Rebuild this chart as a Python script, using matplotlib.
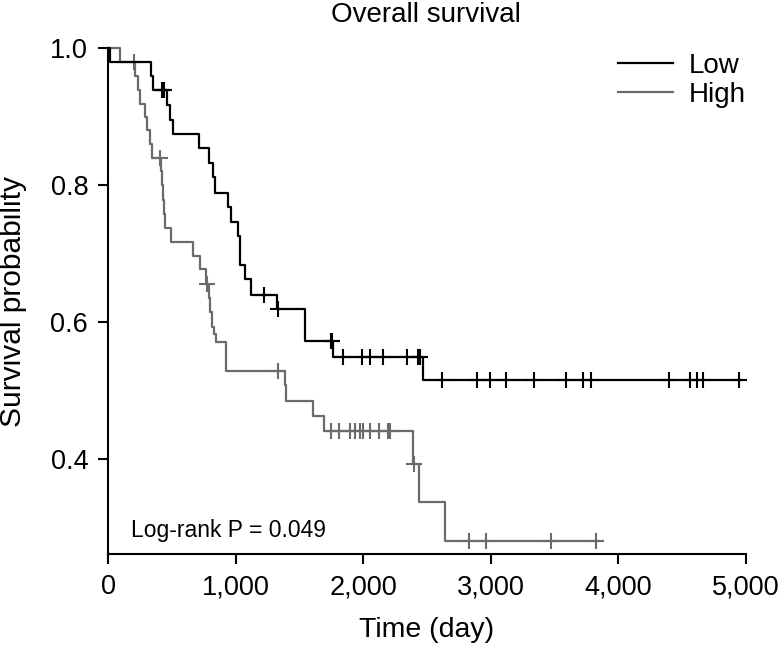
import numpy as np
import matplotlib
matplotlib.use("Agg")
import matplotlib.pyplot as plt

plt.rcParams['font.family'] = ['Liberation Sans', 'DejaVu Sans']

# ---- data ----
low_time = [0, 15, 335, 351, 461, 487, 505, 709, 788, 819, 840, 940, 965, 1018,
            1036, 1075, 1122, 1324, 1546, 1764, 2470]
low_surv = [1.0, 0.980, 0.960, 0.939, 0.917, 0.896, 0.875, 0.855, 0.833, 0.812,
            0.789, 0.768, 0.746, 0.725, 0.683, 0.662, 0.640, 0.619, 0.572, 0.549, 0.5145]
low_end = 4960
low_censor = [418, 428, 438, 1219, 1335, 1745, 1755, 1842, 1991, 2051, 2155, 2346,
              2432, 2442, 2614, 2894, 2993, 3119, 3341, 3587, 3726, 3789, 4398,
              4562, 4620, 4667, 4947]

high_time = [0, 94, 212, 230, 251, 285, 304, 330, 343, 414, 422, 430, 436, 442,
             494, 665, 722, 769, 786, 800, 814, 828, 845, 924, 1389, 1397, 1606,
             1695, 2389, 2436, 2640]
high_surv = [1.0, 0.980, 0.960, 0.939, 0.918, 0.899, 0.880, 0.860, 0.840, 0.820,
             0.800, 0.779, 0.758, 0.737, 0.717, 0.696, 0.677, 0.656, 0.635, 0.614,
             0.593, 0.582, 0.571, 0.528, 0.507, 0.485, 0.463, 0.440, 0.392, 0.336, 0.280]
high_end = 3840
high_censor = [204, 403, 775, 1332, 1743, 1808, 1894, 1934, 1978, 1996, 2051,
               2125, 2193, 2208, 2395, 2828, 2959, 3469, 3828]

group_labels = ["Low", "High"]
title = "Overall survival"
xlabel = "Time (day)"
ylabel = "Survival probability"
pvalue_text = "Log-rank P = 0.049"
xticks = [0, 1000, 2000, 3000, 4000, 5000]
yticks = [0.4, 0.6, 0.8, 1.0]

colors = ["#000000", "#6b6b6b"]

fig = plt.figure(figsize=(7.82, 6.5), dpi=100)
ax = fig.add_axes([0.1385, 0.1472, 0.8151, 0.7783])


def step_value(times, surv, t):
    idx = np.searchsorted(np.asarray(times), t, side='right') - 1
    return np.asarray(surv)[idx]


for times, surv, end, cens, col, lab in [
        (low_time, low_surv, low_end, low_censor, colors[0], group_labels[0]),
        (high_time, high_surv, high_end, high_censor, colors[1], group_labels[1])]:
    tt = list(times) + [end]
    ss = list(surv) + [surv[-1]]
    z = 3 if col == colors[0] else 2
    ax.step(tt, ss, where='post', color=col, lw=1.6, label=lab, clip_on=False, zorder=z)
    cy = [step_value(times, surv, c) for c in cens]
    ax.plot(cens, cy, linestyle='none', marker='+', markersize=12, mew=1.5,
            color=col, clip_on=False, zorder=z)

ax.set_xlim(0, 5000)
ax.set_ylim(0.26, 1.0)
ax.set_xticks(xticks)
ax.set_xticklabels([f"{v:,}" for v in xticks])
ax.set_yticks(yticks)
ax.set_yticklabels([f"{v:.1f}" for v in yticks])

for s in ['top', 'right']:
    ax.spines[s].set_visible(False)
for s in ['left', 'bottom']:
    ax.spines[s].set_linewidth(1.5)
ax.tick_params(axis='both', direction='out', length=7.5, width=1.5,
               labelsize=19.5, pad=7)

fig.text(0.5453, 13 / 650, xlabel, fontsize=20.5, ha='center', va='baseline')
fig.text(0.017, 0.5365, ylabel, rotation=90, fontsize=21.5, ha='center', va='center')
fig.text(0.5453, 1 - 22 / 650, title, fontsize=20, ha='center', va='baseline')

ax.text(0.0356, 0.0348, pvalue_text, transform=ax.transAxes, fontsize=16.5,
        ha='left', va='baseline')

leg = ax.legend(loc='upper left', bbox_to_anchor=(0.790, 0.919),
                bbox_transform=fig.transFigure, frameon=False, fontsize=20,
                handlelength=1.98, handletextpad=0.58, labelspacing=0.12,
                borderpad=0, borderaxespad=0)

fig.savefig("out.png", dpi=100)
